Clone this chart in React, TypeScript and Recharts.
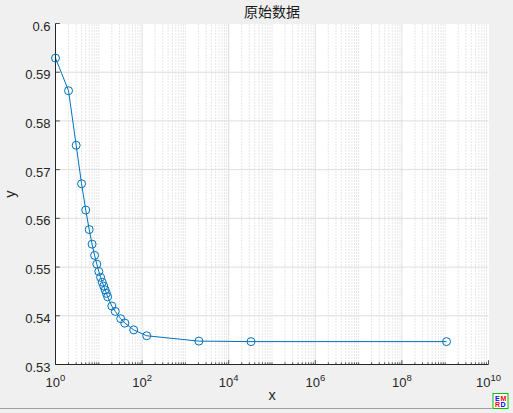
import React from 'react'
import { LineChart, Line, XAxis, YAxis, ReferenceLine } from 'recharts'

// x 为对数刻度的原始采样点
const xValues = [1, 2, 3, 4, 5, 6, 7, 8, 9, 10, 11, 12, 13, 14, 15, 16, 20, 24, 32, 40, 64, 128, 2048, 32768, 1073741824]
const yValues = [
  0.5929, 0.5862, 0.575, 0.5671, 0.5617, 0.5577, 0.5547, 0.5524, 0.5506, 0.5491, 0.5479, 0.5469, 0.5461,
  0.5453, 0.5446, 0.5439, 0.542, 0.5409, 0.5394, 0.5385, 0.5371, 0.5359, 0.5348, 0.5347, 0.5347,
]

const xTicks = [1, 1e2, 1e4, 1e6, 1e8, 1e10]
const xTickExponents = ['0', '2', '4', '6', '8', '10']
const yTicks = [0.53, 0.54, 0.55, 0.56, 0.57, 0.58, 0.59, 0.6]
const yTickLabels = ['0.53', '0.54', '0.55', '0.56', '0.57', '0.58', '0.59', '0.6']

const TITLE = '原始数据'
const LINE_COLOR = '#0072BD'
const AXIS_COLOR = '#262626'
const FONT = '"Liberation Sans", Arial, Helvetica, sans-serif'

// minor grid: 2..10 x 10^k, skipping the labelled decades
const minorX: number[] = []
for (let k = 0; k < 10; k++) {
  for (let m = 2; m <= 10; m++) {
    const v = m * Math.pow(10, k)
    if (!xTicks.some((t) => Math.abs(t - v) / t < 1e-9)) minorX.push(v)
  }
}
const allXTicks = [...xTicks, ...minorX].sort((a, b) => a - b)
const isMajor = (v: number) => xTicks.some((t) => Math.abs(t - v) / t < 1e-9)

const data = xValues.map((x, i) => ({ x, y: yValues[i] }))

const BottomTick = (props: any) => {
  const { x, y, payload } = props
  const v = payload.value
  const major = isMajor(v)
  const len = major ? 4.3 : 2.2
  const idx = xTicks.findIndex((t) => Math.abs(t - v) / t < 1e-9)
  return (
    <g>
      <line x1={x} x2={x} y1={y} y2={y - len} stroke={AXIS_COLOR} strokeWidth={0.8} />
      {major && (
        <text x={x} y={387} textAnchor="middle" fontFamily={FONT} fontSize={13} fill={AXIS_COLOR}>
          10
          <tspan dy={-6} fontSize={9.5}>
            {xTickExponents[idx]}
          </tspan>
        </text>
      )}
    </g>
  )
}

const TopTick = (props: any) => {
  const { x, y, payload } = props
  const len = isMajor(payload.value) ? 4.3 : 2.2
  return <line x1={x} x2={x} y1={y} y2={y + len} stroke={AXIS_COLOR} strokeWidth={0.8} />
}

const LeftTick = (props: any) => {
  const { x, y, payload } = props
  const idx = yTicks.findIndex((t) => Math.abs(t - payload.value) < 1e-9)
  return (
    <g>
      <line x1={x} x2={x + 4.3} y1={y} y2={y} stroke={AXIS_COLOR} strokeWidth={0.8} />
      <text x={x - 5} y={y + 7} textAnchor="end" fontFamily={FONT} fontSize={13} fill={AXIS_COLOR}>
        {yTickLabels[idx]}
      </text>
    </g>
  )
}

const RightTick = (props: any) => {
  const { x, y } = props
  return <line x1={x - 4.3} x2={x} y1={y} y2={y} stroke={AXIS_COLOR} strokeWidth={0.8} />
}

export default function App() {
  return (
    <div style={{ position: 'absolute', left: 0, top: 0, width: 513, height: 413, background: '#f0f0f0', overflow: 'hidden' }}>
      <div style={{ position: 'absolute', left: 55.5, top: 23.5, width: 433, height: 341, background: '#ffffff' }} />
      <div style={{ position: 'absolute', left: 0, top: 0 }}>
        <LineChart width={513} height={413} data={data} margin={{ top: 23.5, right: 24.5, bottom: 0, left: 0 }}>
          <XAxis
            xAxisId="b"
            dataKey="x"
            type="number"
            scale="log"
            domain={[1, 1e10]}
            ticks={allXTicks}
            interval={0}
            height={48.5}
            tickSize={0}
            tickMargin={0}
            tick={<BottomTick />}
            axisLine={{ stroke: AXIS_COLOR, strokeWidth: 1 }}
            tickLine={false}
          />
          <XAxis
            xAxisId="t"
            orientation="top"
            dataKey="x"
            type="number"
            scale="log"
            domain={[1, 1e10]}
            ticks={allXTicks}
            interval={0}
            height={0}
            tickSize={0}
            tickMargin={0}
            tick={<TopTick />}
            axisLine={{ stroke: AXIS_COLOR, strokeWidth: 1 }}
            tickLine={false}
          />
          <YAxis
            yAxisId="l"
            type="number"
            domain={[0.53, 0.6]}
            ticks={yTicks}
            interval={0}
            width={55.5}
            tickSize={0}
            tickMargin={0}
            tick={<LeftTick />}
            axisLine={{ stroke: AXIS_COLOR, strokeWidth: 1 }}
            tickLine={false}
          />
          <YAxis
            yAxisId="r"
            orientation="right"
            type="number"
            domain={[0.53, 0.6]}
            ticks={yTicks}
            interval={0}
            width={0}
            tickSize={0}
            tickMargin={0}
            tick={<RightTick />}
            axisLine={{ stroke: AXIS_COLOR, strokeWidth: 1 }}
            tickLine={false}
          />
          {minorX.map((v) => (
            <ReferenceLine key={'mx' + v} x={v} xAxisId="b" yAxisId="l" stroke="#cfcfcf" strokeDasharray="1 2" strokeWidth={1} />
          ))}
          {xTicks.slice(1, -1).map((v) => (
            <ReferenceLine key={'Mx' + v} x={v} xAxisId="b" yAxisId="l" stroke="#dedede" strokeWidth={1} />
          ))}
          {yTicks.slice(1, -1).map((v) => (
            <ReferenceLine key={'My' + v} y={v} xAxisId="b" yAxisId="l" stroke="#dedede" strokeWidth={1} />
          ))}
          <Line
            xAxisId="b"
            yAxisId="l"
            dataKey="y"
            type="linear"
            stroke={LINE_COLOR}
            strokeWidth={1}
            dot={{ r: 4, stroke: LINE_COLOR, strokeWidth: 1, fill: 'none' }}
            activeDot={false}
            isAnimationActive={false}
          />
        </LineChart>
      </div>
      <svg width={513} height={413} style={{ position: 'absolute', left: 0, top: 0, pointerEvents: 'none' }}>
        <text x={272} y={17} textAnchor="middle" fontFamily='"Noto Sans CJK SC", sans-serif' fontSize={14} fill="#1a1a1a">
          {TITLE}
        </text>
        <text x={272} y={399.5} textAnchor="middle" fontFamily={FONT} fontSize={14.5} fill={AXIS_COLOR}>
          x
        </text>
        <text
          x={0}
          y={0}
          transform="translate(14.5 194) rotate(-90)"
          textAnchor="middle"
          fontFamily={FONT}
          fontSize={14.5}
          fill={AXIS_COLOR}
        >
          y
        </text>
        <line x1={0} x2={492} y1={408.5} y2={408.5} stroke="#a0a0a0" strokeWidth={1} />
        <rect x={493} y={393.5} width={15} height={15} fill="#ffffff" stroke="#00c000" strokeWidth={1} />
        <text x={495} y={400.5} fontFamily={FONT} fontSize={7} fontWeight="bold" fill="#0000ff">E</text>
        <text x={500.5} y={400.5} fontFamily={FONT} fontSize={7} fontWeight="bold" fill="#ff0000">M</text>
        <text x={495} y={407} fontFamily={FONT} fontSize={7} fontWeight="bold" fill="#ff0000">R</text>
        <text x={500.5} y={407} fontFamily={FONT} fontSize={7} fontWeight="bold" fill="#0000ff">D</text>
      </svg>
    </div>
  )
}
